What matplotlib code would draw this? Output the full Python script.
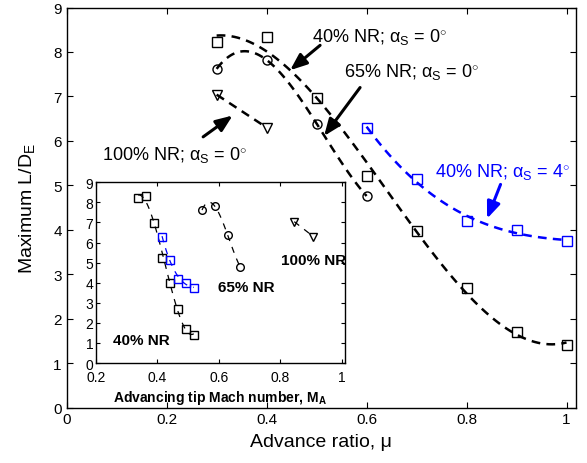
import numpy as np
import matplotlib
matplotlib.use("Agg")
import matplotlib.pyplot as plt

plt.rcParams["font.family"] = ["Liberation Sans", "DejaVu Sans"]
plt.rcParams["mathtext.fontset"] = "custom"
plt.rcParams["mathtext.rm"] = "Liberation Sans"
plt.rcParams["mathtext.bf"] = "Liberation Sans:bold"
plt.rcParams["mathtext.it"] = "Liberation Sans:italic"

# advance ratio, mu
mu_40 = [0.3, 0.4, 0.5, 0.6, 0.7, 0.8, 0.9, 1.0]
mu_65 = [0.3, 0.4, 0.5, 0.6]
mu_100 = [0.3, 0.4]
mu_40a4 = [0.6, 0.7, 0.8, 0.9, 1.0]

# maximum L/D_E
ld_40 = [8.22, 8.34, 6.96, 5.21, 3.97, 2.70, 1.70, 1.40]
ld_65 = [7.62, 7.82, 6.39, 4.76]
ld_100 = [7.04, 6.30]
ld_40a4 = [6.30, 5.15, 4.20, 4.00, 3.75]

# advancing tip Mach number (inset)
ma_40 = [0.337, 0.363, 0.389, 0.415, 0.441, 0.467, 0.492, 0.518]
ma_65 = [0.545, 0.586, 0.628, 0.670]
ma_100 = [0.845, 0.907]
ma_40a4 = [0.415, 0.441, 0.467, 0.492, 0.518]

BLUE = (0, 0, 1)


def fit_curve(x, y, deg, n=100):
    c = np.polyfit(x, y, deg)
    xs = np.linspace(min(x), max(x), n)
    return xs, np.polyval(c, xs)


fig = plt.figure(figsize=(5.87, 4.64), dpi=100)
ax = fig.add_axes([0.1136, 0.1196, 0.8677, 0.862])

main_ls = (0, (3.5, 2.5))
series = [
    (mu_40, ld_40, 3, "k", "s"),
    (mu_65, ld_65, 3, "k", "o"),
    (mu_100, ld_100, 1, "k", "v"),
    (mu_40a4, ld_40a4, 3, BLUE, "s"),
]
for x, y, deg, col, mk in series:
    xs, ys = fit_curve(x, y, deg)
    ax.plot(xs, ys, color=col, lw=1.8, linestyle=main_ls)
    ax.plot(x, y, linestyle="none", marker=mk, ms=6.5, mfc="none",
            mec=col, mew=1.0)

ax.set_xlim(0, 1.019)
ax.set_ylim(0, 9)
ax.set_xticks([0, 0.2, 0.4, 0.6, 0.8, 1.0])
ax.set_xticklabels(["0", "0.2", "0.4", "0.6", "0.8", "1"])
ax.set_yticks(range(10))
ax.tick_params(direction="in", top=True, right=True, labelsize=11, length=4,
               width=0.8)
for s in ax.spines.values():
    s.set_linewidth(1.0)
ax.set_xlabel("Advance ratio, μ", fontsize=14, labelpad=5)
ax.set_ylabel(r"Maximum L/D$_{\rm E}$", fontsize=14, labelpad=12)

arrow = dict(arrowstyle="-|>,head_length=1.0,head_width=0.4", lw=2.2,
             color="k", mutation_scale=10, shrinkA=0, shrinkB=0)
arrow_b = dict(arrow, color=BLUE)
lab0 = r"NR; α$_{\rm S}$ = 0$^{\circ}$"

ax.text(0.49, 8.24, "40% " + lab0, fontsize=13)
ax.annotate("", xy=(0.447, 7.59), xytext=(0.507, 8.15), arrowprops=arrow)
ax.text(0.555, 7.47, "65% " + lab0, fontsize=13)
ax.annotate("", xy=(0.515, 6.11), xytext=(0.587, 7.20), arrowprops=arrow)
ax.text(0.07, 5.6, "100% " + lab0, fontsize=13)
ax.annotate("", xy=(0.332, 6.57), xytext=(0.273, 6.09), arrowprops=arrow)
ax.text(0.737, 5.21, r"40% NR; α$_{\rm S}$ = 4$^{\circ}$", fontsize=13,
        color=BLUE)
ax.annotate("", xy=(0.841, 4.25), xytext=(0.868, 5.02), arrowprops=arrow_b)

# inset: L/D vs advancing tip Mach number
ins = fig.add_axes([0.1635, 0.2155, 0.4242, 0.3894])
ins.set_facecolor("white")
ins_ls = (0, (5, 5))
ins_series = [
    (ma_40, ld_40, 3, "k", "s"),
    (ma_65, ld_65, 3, "k", "o"),
    (ma_100, ld_100, 1, "k", "v"),
    (ma_40a4, ld_40a4, 3, BLUE, "s"),
]
for x, y, deg, col, mk in ins_series:
    xs, ys = fit_curve(x, y, deg)
    ins.plot(xs, ys, color=col, lw=0.9, linestyle=ins_ls)
    ins.plot(x, y, linestyle="none", marker=mk, ms=5.5, mfc="none",
             mec=col, mew=1.0)

ins.set_xlim(0.2, 1.01)
ins.set_ylim(0, 9)
ins.set_xticks([0.2, 0.4, 0.6, 0.8, 1.0])
ins.set_xticklabels(["0.2", "0.4", "0.6", "0.8", "1"])
ins.set_yticks(range(10))
ins.tick_params(direction="in", top=True, right=True, labelsize=10, length=3,
                width=0.8, pad=2)
ins.tick_params(axis="x", pad=5)
for s in ins.spines.values():
    s.set_linewidth(1.0)
ins.set_xlabel(r"Advancing tip Mach number, M$_{\bf A}$", fontsize=10,
               fontweight="bold", labelpad=3)
ins.text(0.802, 4.93, "100% NR", fontsize=11, fontweight="bold")
ins.text(0.598, 3.60, "65% NR", fontsize=11, fontweight="bold")
ins.text(0.254, 0.95, "40% NR", fontsize=11, fontweight="bold")

fig.savefig("out.png", dpi=100)
